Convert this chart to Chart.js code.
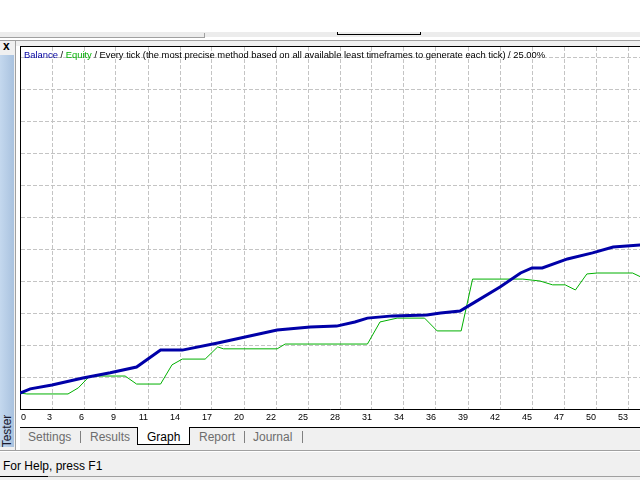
<!DOCTYPE html>
<html>
<head>
<meta charset="utf-8">
<script src="https://cdn.jsdelivr.net/npm/chart.js@4.4.0/dist/chart.umd.min.js"></script>
<style>
  body { margin: 0; width: 640px; height: 480px; overflow: hidden; background: #fff; position: relative; font-family: "Liberation Sans", Arial, sans-serif; }
  .abs { position: absolute; }
  .tab { position: absolute; top: 430px; font-size: 12px; color: #6d6d6d; line-height: 14px; }
  .sep { position: absolute; top: 431px; width: 1px; height: 12px; background: #808080; }
</style>
</head>
<body>
<!-- top strip -->
<div class="abs" style="left:0;top:32px;width:640px;height:5px;background:#ececec"></div>
<div class="abs" style="left:0;top:37px;width:205px;height:1px;background:#a0a0a0"></div>
<div class="abs" style="left:204px;top:33px;width:1px;height:5px;background:#a0a0a0"></div>
<div class="abs" style="left:337px;top:32px;width:82px;height:2px;border:1px solid #000;border-top:none"></div>

<!-- tester panel -->
<div class="abs" style="left:0;top:40px;width:640px;height:410px;background:#f0f0f0;border-top:1px solid #a0a0a0"></div>
<div class="abs" style="left:3px;top:39px;font-size:12px;font-weight:bold;color:#000">x</div>
<div class="abs" style="left:0;top:55px;width:14px;height:392px;background:linear-gradient(to right,#c4d8ee,#a9c2df)"></div>
<div class="abs" style="left:-10px;top:424px;width:34px;height:14px;font-size:12px;line-height:14px;color:#1a1a2e;transform:rotate(-90deg);text-align:center">Tester</div>
<div class="abs" style="left:15px;top:41px;width:1px;height:409px;background:#a0a0a0"></div>
<div class="abs" style="left:16px;top:46px;width:4px;height:404px;background:#fff"></div>

<!-- chart box -->
<div class="abs" style="left:20px;top:46px;width:620px;height:381px;background:#fff;border-top:1px solid #000">
  <canvas id="equityChart" width="620" height="380"></canvas>
  <div class="abs" style="left:4px;top:2px;font-size:9.4px;line-height:12px;color:#000;white-space:nowrap">
    <span style="color:#0000a0">Balance</span> / <span style="color:#00b000">Equity</span> / Every tick (the most precise method based on all available least timeframes to generate each tick) / 25.00%
  </div>
</div>

<!-- tabs -->
<div class="abs" style="left:20px;top:427px;width:620px;height:22px;background:#f0f0f0;border-top:1px solid #000"></div>
<div class="abs" style="left:137px;top:427px;width:51px;height:17px;background:#fff;border:1px solid #000;border-top:none"></div>
<div class="tab" style="left:28px">Settings</div>
<div class="sep" style="left:80px"></div>
<div class="tab" style="left:90px">Results</div>
<div class="tab" style="left:147px;color:#000">Graph</div>
<div class="tab" style="left:199px">Report</div>
<div class="sep" style="left:244px"></div>
<div class="tab" style="left:253px">Journal</div>
<div class="sep" style="left:302px"></div>

<!-- status bar -->
<div class="abs" style="left:0;top:450px;width:640px;height:1px;background:#a0a0a0"></div>
<div class="abs" style="left:0;top:451px;width:640px;height:29px;background:#f0f0f0;border-top:1px solid #fff"></div>
<div class="abs" style="left:3px;top:459px;font-size:12px;line-height:14px;color:#000">For Help, press F1</div>
<div class="abs" style="left:0;top:476px;width:640px;height:1px;background:#a0a0a0"></div>
<div class="abs" style="left:0;top:476px;width:48px;height:1px;background:#000"></div>

<script>
// =========================
// Data (trade number / account value)
// =========================
const tickLabels = ["0", "3", "6", "9", "11", "14", "17", "20", "22", "25", "28", "31", "34", "36", "39", "42", "45", "47", "50", "53"];
const tickStep = 2.8; // trades per grid column
const xMax = 54.25;

const balanceX = [0, 0.9, 2.8, 5.5, 7.9, 10.2, 12.3, 14.2, 17.3, 20.1, 22.5, 25.4, 27.7, 29.3, 30.4, 32.6, 35.6, 36.8, 38.5, 39.8, 42.0, 43.8, 44.8, 45.7, 47.9, 50.1, 51.9, 54.3];
const balanceY = [10050, 10063, 10075, 10097, 10113, 10131, 10184, 10184, 10206, 10228, 10247, 10256, 10259, 10272, 10284, 10291, 10294, 10300, 10306, 10334, 10381, 10425, 10441, 10441, 10469, 10488, 10506, 10513];

const equityX = [0, 0.6, 4.2, 5.1, 6.1, 9.2, 10.2, 12.3, 13.3, 14.2, 16.2, 17.3, 17.8, 22.5, 23.2, 30.4, 31.5, 33.0, 35.4, 36.5, 38.6, 39.6, 44.0, 45.5, 46.6, 47.7, 48.6, 49.6, 50.5, 53.6, 54.3];
const equityY = [10050, 10047, 10047, 10066, 10103, 10103, 10078, 10078, 10138, 10156, 10156, 10194, 10188, 10188, 10203, 10203, 10272, 10284, 10284, 10244, 10244, 10406, 10406, 10400, 10388, 10388, 10372, 10422, 10425, 10425, 10413];

const yMin = 10000;
const yMax = 11131.25;
const yStep = 100;

// =========================
// x labels drawn right-aligned to each grid line (first one after it)
// =========================
const xLabelPlugin = {
  id: "xLabels",
  afterDraw(chart) {
    const { ctx, chartArea } = chart;
    const x = chart.scales.x;
    ctx.save();
    ctx.font = "9px 'Liberation Sans', Arial, sans-serif";
    ctx.fillStyle = "#000";
    ctx.textBaseline = "middle";
    x.ticks.forEach((t, i) => {
      const px = x.getPixelForValue(t.value);
      ctx.textAlign = i === 0 ? "left" : "right";
      ctx.fillText(tickLabels[i], i === 0 ? px + 1 : px, chartArea.bottom + 9);
    });
    ctx.restore();
  },
};

document.addEventListener("DOMContentLoaded", () => {
  const ctx = document.getElementById("equityChart");

  new Chart(ctx, {
    type: "line",
    data: {
      datasets: [
        {
          label: "Balance",
          data: balanceX.map((v, i) => ({ x: v, y: balanceY[i] })),
          borderColor: "#0000a8",
          borderWidth: 3,
          pointRadius: 0,
          tension: 0,
        },
        {
          label: "Equity",
          data: equityX.map((v, i) => ({ x: v, y: equityY[i] })),
          borderColor: "#00b000",
          borderWidth: 1,
          pointRadius: 0,
          tension: 0,
        },
      ],
    },
    options: {
      responsive: false,
      animation: false,
      devicePixelRatio: 1,
      layout: { padding: { left: 0, right: 0, top: 0, bottom: 18 } },
      plugins: {
        legend: { display: false },
        title: { display: false },
        tooltip: { enabled: false },
      },
      scales: {
        x: {
          type: "linear",
          min: 0,
          max: xMax,
          afterBuildTicks: (scale) => {
            scale.ticks = tickLabels.map((_, i) => ({ value: i * tickStep }));
          },
          ticks: { display: false },
          grid: { color: "#c4c4c4", drawTicks: false, borderDash: [4, 2] },
          border: { display: true, color: "#000", width: 1, dash: [4, 2] },
        },
        y: {
          min: yMin,
          max: yMax,
          afterBuildTicks: (scale) => {
            const t = [];
            for (let v = yMin; v <= yMax; v += yStep) t.push({ value: v });
            scale.ticks = t;
          },
          ticks: { display: false },
          grid: { color: "#c4c4c4", drawTicks: false, borderDash: [4, 2] },
          border: { display: true, color: "#000", width: 1, dash: [4, 2] },
        },
      },
    },
    plugins: [xLabelPlugin],
  });
});
</script>
</body>
</html>
